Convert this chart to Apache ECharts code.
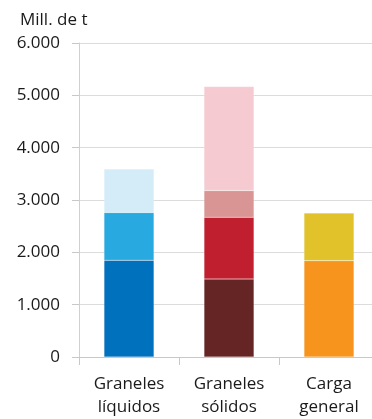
<!DOCTYPE html>
<html>
<head>
<meta charset="utf-8">
<script src="https://cdn.jsdelivr.net/npm/echarts@6/dist/echarts.min.js"></script>
<style>html,body{margin:0;padding:0;background:#fff;}#c{width:372px;height:419px;}</style>
</head>
<body>
<div id="c"></div>
<script>
const categories = ['Graneles\nlíquidos', 'Graneles\nsólidos', 'Carga\ngeneral'];
// segment values (Mill. de t), bottom to top
const segment1 = [1850, 1490, 1840];
const segment2 = [910, 1180, 910];
const segment3 = [830, 510, null];
const segment4 = [null, 1990, null];
const yTicks = [0, 1000, 2000, 3000, 4000, 5000, 6000];

const colors1 = ['#0071BD', '#652524', '#F7941E'];
const colors2 = ['#28AAE1', '#BF1F2E', '#E1C22B'];
const colors3 = ['#D4ECF8', '#D99594', null];
const colors4 = [null, '#F6CAD1', null];

const font = '"Open Sans", "Liberation Sans", sans-serif';

function mk(vals, cols) {
  return {
    type: 'bar', stack: 'all', barWidth: '50%',
    data: vals.map((v, i) => ({ value: v, itemStyle: { color: cols[i] || '#fff' } })),
    itemStyle: { borderColor: 'rgba(255,255,255,0.3)', borderWidth: 0.5 },
    emphasis: { disabled: true }
  };
}

const chart = echarts.init(document.getElementById('c'), null, { renderer: 'canvas' });
chart.setOption({
  animation: false,
  backgroundColor: '#fff',
  title: {
    text: 'Mill. de t', left: 15, top: 7,
    textStyle: { fontFamily: font, fontSize: 17, fontWeight: 'normal', color: '#1a1a1a' }
  },
  grid: { left: 79, top: 43, width: 300, height: 314, containLabel: false, outerBoundsMode: 'none' },
  xAxis: {
    type: 'category', data: categories,
    axisLine: { lineStyle: { color: '#C8C8C8' } },
    axisTick: { show: true, length: 8, lineStyle: { color: '#C8C8C8' } },
    axisLabel: { fontFamily: font, fontSize: 17, color: '#1a1a1a', margin: 16, lineHeight: 23 }
  },
  yAxis: {
    type: 'value', min: yTicks[0], max: yTicks[yTicks.length - 1], interval: 1000,
    axisLine: { show: true, lineStyle: { color: '#D0D0D0' } },
    axisTick: { show: true, length: 7, lineStyle: { color: '#C8C8C8' } },
    splitLine: { lineStyle: { color: '#DCDCDC' } },
    axisLabel: {
      fontFamily: font, fontSize: 17, color: '#1a1a1a', margin: 19,
      formatter: v => v.toLocaleString('de-DE').replace(',', '.')
    }
  },
  series: [mk(segment1, colors1), mk(segment2, colors2), mk(segment3, colors3), mk(segment4, colors4)]
});
</script>
</body>
</html>
